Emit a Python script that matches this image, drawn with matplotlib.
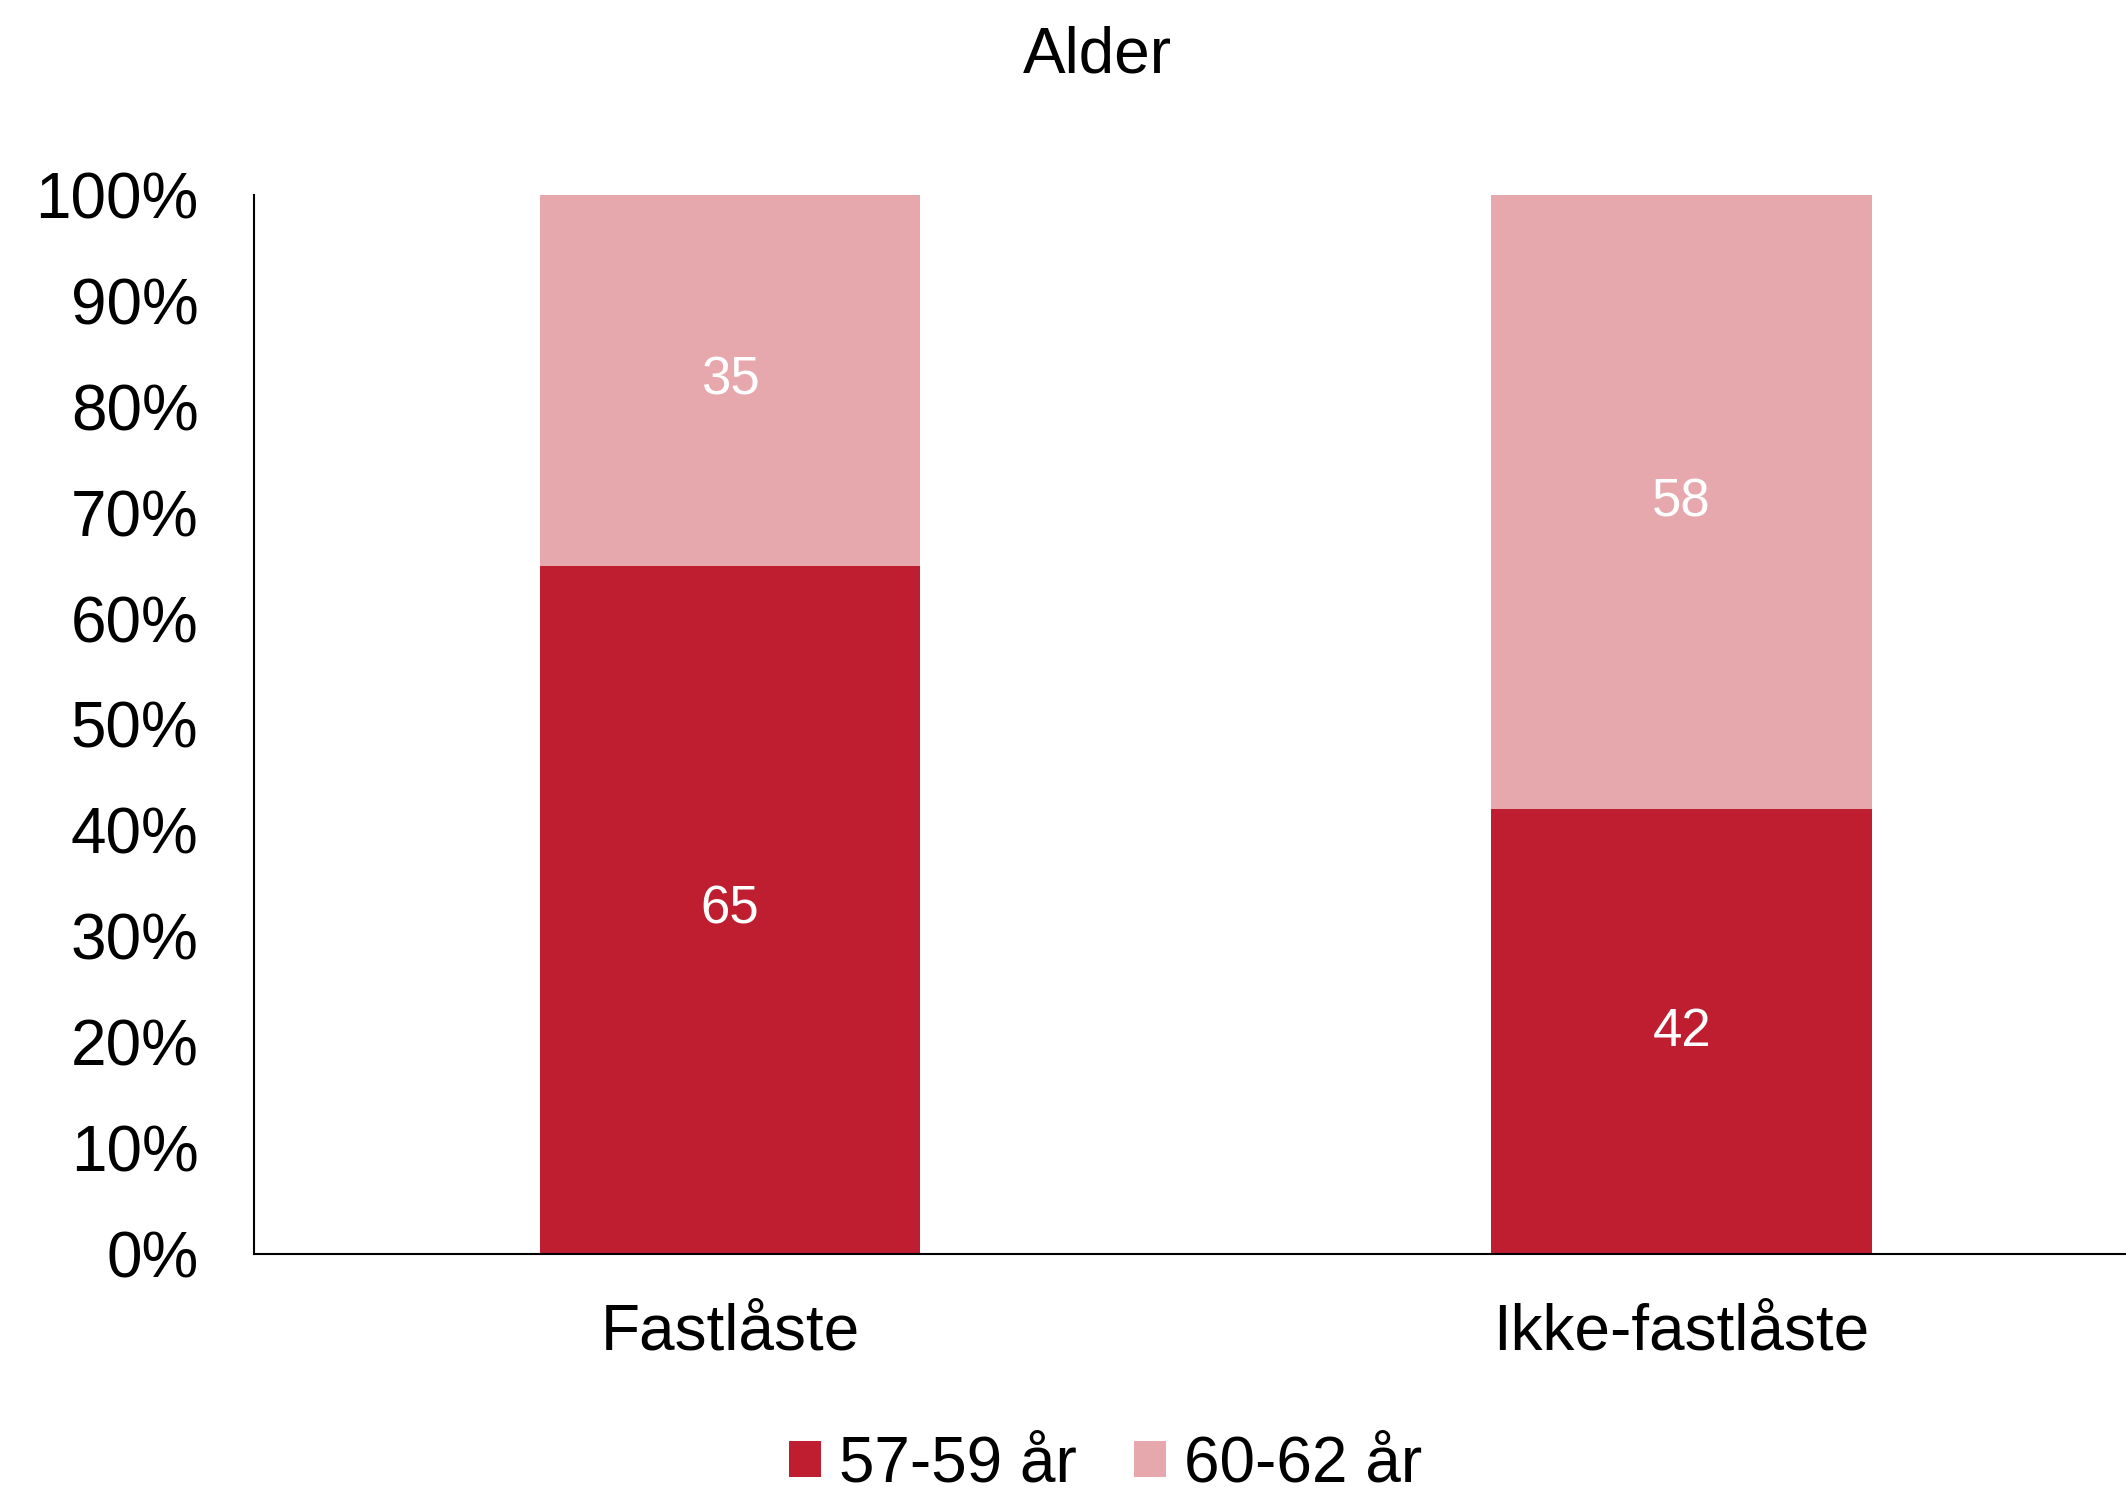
import matplotlib.pyplot as plt
from matplotlib.ticker import PercentFormatter

plt.rcParams["font.family"] = ["Liberation Sans", "DejaVu Sans"]

categories = ["Fastlåste", "Ikke-fastlåste"]
series_names = ["57-59 år", "60-62 år"]
young = [65, 42]
old = [35, 58]
colors = ["#BE1E2F", "#E7A8AD"]

fig = plt.figure(figsize=(21.26, 14.93), dpi=100)
ax = fig.add_axes([0.1195, 0.160, 0.8805, 0.7095])

x = range(len(categories))
b1 = ax.bar(x, young, width=0.4, color=colors[0], label=series_names[0])
b2 = ax.bar(x, old, width=0.4, bottom=young, color=colors[1], label=series_names[1])

for bars in (b1, b2):
    ax.bar_label(bars, labels=[f"{v:.0f}" for v in bars.datavalues],
                 label_type="center", color="white", fontsize=38)

ax.set_xlim(-0.5, 1.467)
ax.set_ylim(0, 100)
ax.set_yticks(range(0, 101, 10))
ax.yaxis.set_major_formatter(PercentFormatter(decimals=0))
ax.set_xticks(list(x))
ax.set_xticklabels(categories)
ax.tick_params(axis="y", length=0, pad=40, labelsize=46)
ax.tick_params(axis="x", length=0, pad=35, labelsize=46)

for side in ("top", "right"):
    ax.spines[side].set_visible(False)
for side in ("left", "bottom"):
    ax.spines[side].set_linewidth(1.5)

fig.text(0.516, 0.963, "Alder", ha="center", va="center", fontsize=46)

fig.legend(loc="center", bbox_to_anchor=(0.520, 0.019), ncol=2, frameon=False,
           fontsize=46, handlelength=0.5, handleheight=0.5,
           handletextpad=0.28, columnspacing=0.9)

fig.savefig("out.png", dpi=100)
